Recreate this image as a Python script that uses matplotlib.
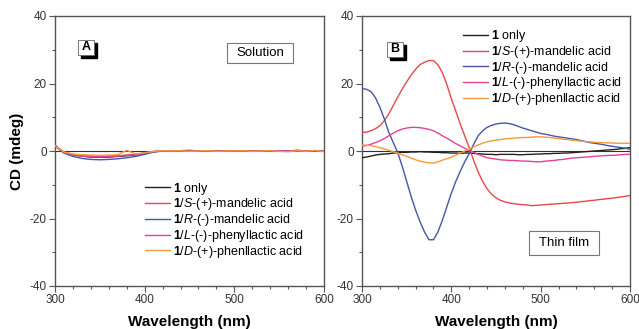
import matplotlib
matplotlib.use("Agg")
import matplotlib.pyplot as plt
from matplotlib.patches import Rectangle
from matplotlib.ticker import MultipleLocator

plt.rcParams['font.family'] = ['Liberation Sans', 'DejaVu Sans']
plt.rcParams['mathtext.fontset'] = 'custom'
plt.rcParams['mathtext.rm'] = 'Liberation Sans'
plt.rcParams['mathtext.it'] = 'Liberation Sans:italic'
plt.rcParams['mathtext.bf'] = 'Liberation Sans:bold'
plt.rcParams['axes.unicode_minus'] = False

wavelength_sol = list(range(300, 601, 10))
wavelength_film = list(range(300, 601, 5))

labels = [r"$\mathbf{1}$ only",
          r"$\mathbf{1}$/$\mathit{S}$-(+)-mandelic acid",
          r"$\mathbf{1}$/$\mathit{R}$-(-)-mandelic acid",
          r"$\mathbf{1}$/$\mathit{L}$-(-)-phenyllactic acid",
          r"$\mathbf{1}$/$\mathit{D}$-(+)-phenllactic acid"]
colors = ['#222222', '#e8474d', '#4656a8', '#e5409a', '#f39a3c']

# Panel A: solution (300..600 step 10)
sol_only = [1.5, -0.5, -1.2, -1.5, -1.8, -1.8, -1.8, -1.6, -1.4, -1.2, -0.7, -0.2, 0.0, -0.1, 0.1, 0.0,
            -0.1, 0.1, 0.0, 0.1, -0.1, 0.0, 0.1, 0.0, -0.1, 0.1, 0.0, 0.2, 0.0, -0.1, 0.0]
sol_S = [1.5, -0.3, -1.0, -1.3, -1.5, -1.6, -1.5, -1.4, -1.2, -1.0, -0.6, -0.2, 0.1, 0.0, -0.1, 0.1,
         0.0, -0.1, 0.0, 0.1, 0.0, -0.1, 0.0, 0.1, 0.0, -0.1, 0.0, 0.1, 0.0, 0.1, -0.1]
sol_R = [1.8, -0.6, -1.6, -2.2, -2.5, -2.6, -2.5, -2.3, -2.0, -1.6, -1.0, -0.3, 0.0, -0.1, 0.1, 0.2,
         0.0, -0.1, 0.0, 0.0, 0.1, 0.0, -0.1, 0.1, 0.0, 0.1, -0.1, 0.0, 0.1, 0.0, -0.1]
sol_L = [1.5, -0.4, -1.2, -1.5, -1.7, -1.7, -1.6, -1.5, -1.3, -1.1, -0.6, -0.2, 0.0, 0.1, 0.0, -0.1,
         0.1, 0.0, -0.1, 0.0, 0.1, 0.0, 0.0, -0.1, 0.1, 0.0, -0.1, 0.1, 0.0, 0.0, -0.1]
sol_D = [1.6, -0.3, -0.9, -1.1, -1.2, -1.3, -1.2, -1.1, 0.2, -0.9, -0.5, -0.1, 0.1, 0.0, 0.1, -0.1,
         0.0, 0.1, -0.1, 0.0, 0.0, 0.1, -0.1, 0.0, 0.1, -0.1, -0.2, 0.1, -0.1, 0.2, -0.2]

# Panel B: thin film (300..600 step 5)
film_only = [-2.0, -1.8, -1.5, -1.2, -1.0, -0.9, -0.8, -0.6, -0.5, -0.4,     # 300-345
             -0.4, -0.3, -0.3, -0.2, -0.3, -0.3, -0.4, -0.4, -0.5, -0.5,     # 350-395
             -0.6, -0.6, -0.7, -0.6, -0.6, -0.7, -0.8, -0.9, -1.0, -1.0,     # 400-445
             -1.1, -1.0, -1.0, -1.0, -1.0, -1.1, -1.1, -1.0, -1.0, -0.9,     # 450-495
             -0.9, -0.8, -0.8, -0.7, -0.7, -0.6, -0.6, -0.5, -0.4, -0.3,     # 500-545
             -0.2, -0.1, 0.0, 0.1, 0.2, 0.3, 0.4, 0.5, 0.7, 0.8,             # 550-595
             1.0]
film_S = [5.5, 5.6, 6.0, 6.6, 7.5, 9.0, 11.0, 13.5, 16.0, 18.3,
          20.5, 22.5, 24.2, 25.6, 26.3, 26.8, 26.8, 25.5, 23.2, 19.7,
          15.5, 11.8, 8.0, 4.5, 1.0, -2.8, -6.2, -9.0, -11.2, -12.8,
          -13.9, -14.6, -15.1, -15.4, -15.6, -15.8, -15.9, -16.0, -16.2, -16.1,
          -16.0, -15.9, -15.8, -15.7, -15.6, -15.5, -15.4, -15.3, -15.2, -15.0,
          -14.9, -14.7, -14.6, -14.4, -14.3, -14.1, -14.0, -13.8, -13.6, -13.4,
          -13.2]
film_R = [18.5, 18.3, 17.6, 15.8, 13.0, 9.5, 5.5, 2.5, -0.5, -4.5,
          -9.0, -13.5, -17.5, -21.0, -24.0, -26.3, -26.3, -24.0, -20.5, -16.5,
          -12.5, -9.0, -6.0, -3.2, -0.8, 2.0, 4.5, 6.0, 7.0, 7.6,
          8.0, 8.2, 8.3, 8.1, 7.8, 7.3, 6.8, 6.4, 6.0, 5.6,
          5.2, 5.0, 4.7, 4.4, 4.2, 4.0, 3.8, 3.6, 3.4, 3.1,
          2.8, 2.5, 2.3, 2.1, 1.9, 1.6, 1.4, 1.2, 1.0, 0.8,
          0.5]
film_L = [1.5, 1.6, 2.0, 2.5, 3.0, 3.7, 4.5, 5.3, 6.0, 6.5,
          6.8, 7.0, 7.0, 6.9, 6.7, 6.4, 6.0, 5.3, 4.5, 3.8,
          3.0, 2.2, 1.5, 0.8, 0.2, -0.4, -1.0, -1.5, -2.0, -2.2,
          -2.4, -2.6, -2.7, -2.8, -2.8, -2.9, -3.0, -3.0, -3.1, -3.2,
          -3.2, -3.0, -2.9, -2.8, -2.6, -2.5, -2.3, -2.1, -2.0, -1.9,
          -1.8, -1.7, -1.6, -1.5, -1.4, -1.3, -1.3, -1.2, -1.1, -1.0,
          -1.0]
film_D = [1.8, 1.7, 1.6, 1.3, 1.0, 0.6, 0.2, -0.2, -0.6, -1.1,
          -1.6, -2.1, -2.6, -3.0, -3.3, -3.5, -3.6, -3.2, -2.7, -2.3,
          -1.8, -1.2, -0.6, 0.0, 0.5, 1.2, 1.8, 2.3, 2.7, 3.0,
          3.2, 3.4, 3.6, 3.7, 3.8, 3.9, 4.0, 4.0, 4.1, 4.2,
          4.2, 4.1, 4.0, 3.8, 3.7, 3.5, 3.4, 3.2, 3.1, 2.9,
          2.8, 2.7, 2.6, 2.5, 2.5, 2.4, 2.4, 2.3, 2.3, 2.3,
          2.3]

solution = [sol_only, sol_S, sol_R, sol_L, sol_D]
film = [film_only, film_S, film_R, film_L, film_D]

fig = plt.figure(figsize=(6.39, 3.29), dpi=100)
axA = fig.add_axes([55/639, 43/329, 269/639, 270/329])
axB = fig.add_axes([362/639, 43/329, 268/639, 270/329])


def style(ax):
    ax.set_xlim(300, 600)
    ax.set_ylim(-40, 40)
    ax.xaxis.set_major_locator(MultipleLocator(100))
    ax.xaxis.set_minor_locator(MultipleLocator(20))
    ax.yaxis.set_major_locator(MultipleLocator(20))
    ax.yaxis.set_minor_locator(MultipleLocator(10))
    for s in ax.spines.values():
        s.set_color('#555555')
        s.set_linewidth(1.0)
    ax.tick_params(which='major', direction='out', length=4, width=0.8, color='#555555',
                   labelsize=8.5, labelcolor='#333333', pad=2)
    ax.tick_params(which='minor', direction='out', length=2, width=0.8, color='#555555')
    ax.tick_params(top=False, right=False)
    ax.axhline(0, color='#333333', lw=0.8, zorder=1)
    ax.set_xlabel('Wavelength (nm)', fontsize=11, fontweight='bold', labelpad=6)


def tag(ax, letter, x0, y0):
    w, h, d = 0.06, 0.056, 0.011
    ax.add_patch(Rectangle((x0 + d, y0 - d), w, h, transform=ax.transAxes,
                           facecolor='black', edgecolor='black', zorder=5))
    ax.add_patch(Rectangle((x0, y0), w, h, transform=ax.transAxes,
                           facecolor='white', edgecolor='#666666', lw=0.6, zorder=6))
    ax.text(x0 + w/2, y0 + h/2, letter, transform=ax.transAxes, ha='center', va='center',
            fontsize=9, fontweight='bold', zorder=7)


def labelbox(ax, text, x0, y0, w, h):
    ax.add_patch(Rectangle((x0, y0), w, h, transform=ax.transAxes,
                           facecolor='white', edgecolor='#777777', lw=0.8, zorder=5))
    ax.text(x0 + w/2, y0 + h/2, text, transform=ax.transAxes, ha='center', va='center',
            fontsize=9.5, zorder=6)


style(axA)
style(axB)

for data, lab, c in zip(solution, labels, colors):
    axA.plot(wavelength_sol, data, color=c, lw=1.0, label=lab, zorder=3)
for data, lab, c in zip(film, labels, colors):
    axB.plot(wavelength_film, data, color=c, lw=1.0, label=lab, zorder=3)

axA.set_ylabel('CD (mdeg)', fontsize=11, fontweight='bold', labelpad=4)

legkw = dict(frameon=False, fontsize=9, handlelength=2.0, handletextpad=0.25,
             labelspacing=-0.02, borderpad=0, borderaxespad=0, loc='upper left')
axA.legend(bbox_to_anchor=(0.335, 0.39), **legkw)
axB.legend(bbox_to_anchor=(0.377, 0.955), **legkw)

tag(axA, 'A', 0.0855, 0.856)
tag(axB, 'B', 0.093, 0.848)
labelbox(axA, 'Solution', 0.639, 0.826, 0.246, 0.074)
labelbox(axB, 'Thin film', 0.623, 0.115, 0.261, 0.089)

fig.savefig('out.png', dpi=100)
